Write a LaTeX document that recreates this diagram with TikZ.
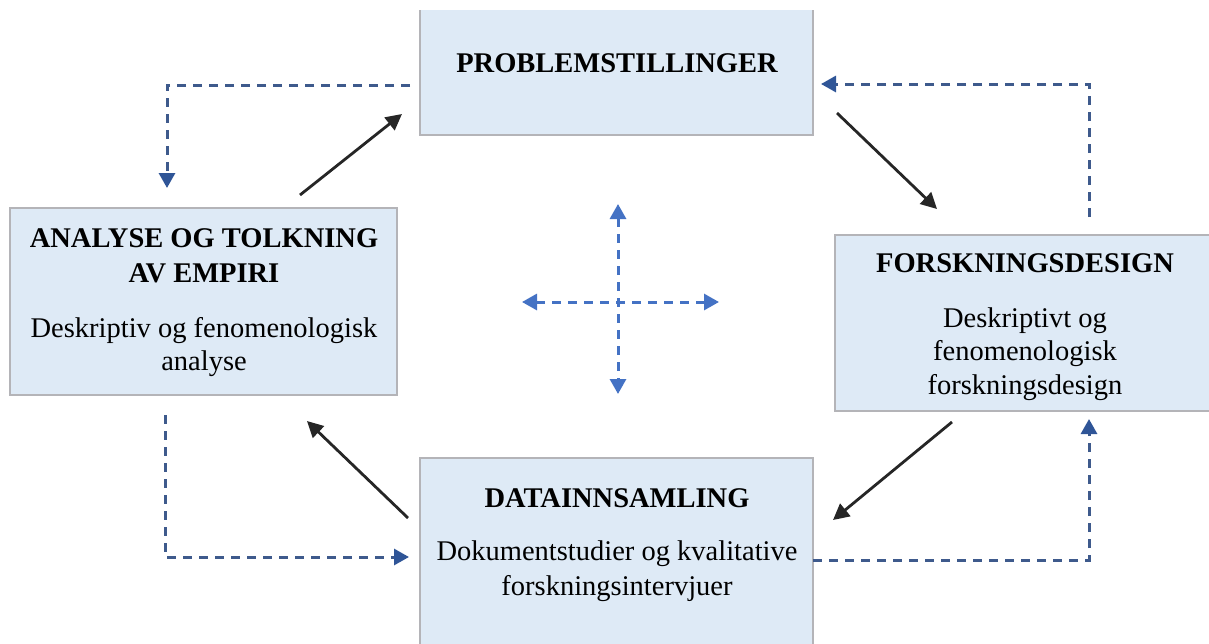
\documentclass[tikz,border=0pt]{standalone}
\usepackage{fontspec}
\setmainfont{Liberation Serif}
\usetikzlibrary{arrows.meta}
\definecolor{boxfill}{RGB}{222,234,246}
\definecolor{boxline}{RGB}{180,180,184}
\definecolor{dashline}{RGB}{62,90,140}
\definecolor{dashhead}{RGB}{47,85,151}
\definecolor{crossblue}{RGB}{68,114,196}
\definecolor{solidarrow}{RGB}{38,38,38}
\tikzset{
  boxnode/.style={rectangle, fill=boxfill, inner sep=0pt, outer sep=0pt, anchor=north west},
  boxborder/.style={draw=boxline, line width=2.2pt},
  headtxt/.style={anchor=base, inner sep=0pt, font=\fontsize{28.5pt}{34pt}\selectfont\bfseries},
  bodytxt/.style={anchor=base, inner sep=0pt, font=\fontsize{28.5pt}{34pt}\selectfont},
  flow/.style={draw=solidarrow, line width=2.8pt, -{Triangle[length=16pt,width=16pt]}},
  feedback/.style={draw=dashline, line width=3pt, dash pattern=on 9pt off 7pt,
     -{Triangle[length=15pt,width=16pt,color=dashhead]}},
  crossarrow/.style={draw=crossblue, line width=3pt, dash pattern=on 9pt off 7pt,
     {Triangle[length=15pt,width=16pt]}-{Triangle[length=15pt,width=16pt]}}
}
\begin{document}
\begin{tikzpicture}[x=1pt,y=-1pt]
\useasboundingbox (0,0) rectangle (1209,643);
% boxes
\node[boxnode, minimum width=393pt, minimum height=125pt] (top) at (420,10) {};
\draw[boxborder] (top.north west) |- (top.south east) -- (top.north east);
\node[boxnode, boxborder, minimum width=387pt, minimum height=187pt] (left) at (10,208) {};
\node[boxnode, boxborder, minimum width=381pt, minimum height=176pt] (right) at (835,235) {};
\node[boxnode, boxborder, minimum width=393pt, minimum height=200pt] (bottom) at (420,458) {};
% texts
\node[headtxt] (t1) at (617,72) {PROBLEMSTILLINGER};
\node[headtxt] (l1) at (204,247) {ANALYSE OG TOLKNING};
\node[headtxt] (l2) at (204,282) {AV EMPIRI};
\node[bodytxt] (l3) at (204,337) {Deskriptiv og fenomenologisk};
\node[bodytxt] (l4) at (204,370) {analyse};
\node[headtxt] (r1) at (1025,272) {FORSKNINGSDESIGN};
\node[bodytxt] (r2) at (1025,327) {Deskriptivt og};
\node[bodytxt] (r3) at (1025,360) {fenomenologisk};
\node[bodytxt] (r4) at (1025,394) {forskningsdesign};
\node[headtxt] (b1) at (617,507) {DATAINNSAMLING};
\node[bodytxt] (b2) at (617,560) {Dokumentstudier og kvalitative};
\node[bodytxt] (b3) at (617,595) {forskningsintervjuer};
% solid arrow endpoints
\coordinate (s1a) at (300,195);
\coordinate (s1b) at (402,114);
\coordinate (s2a) at (837,113);
\coordinate (s2b) at (937,209);
\coordinate (s3a) at (952,422);
\coordinate (s3b) at (833,520);
\coordinate (s4a) at (408,518);
\coordinate (s4b) at (307,421);
\draw[flow] (s1a) -- (s1b);
\draw[flow] (s2a) -- (s2b);
\draw[flow] (s3a) -- (s3b);
\draw[flow] (s4a) -- (s4b);
% dashed feedback endpoints
\coordinate (dA1) at (410,85);
\coordinate (dA2) at (167,188);
\coordinate (dB1) at (1089,217);
\coordinate (dB2) at (821,84);
\coordinate (dC1) at (813,560);
\coordinate (dC2) at (1089,419);
\coordinate (dD1) at (165,415);
\coordinate (dD2) at (409,557);
\draw[feedback] (dA1) -| (dA2);
\draw[feedback] (dB1) |- (dB2);
\draw[feedback] (dC1) -| (dC2);
\draw[feedback] (dD1) |- (dD2);
% centre cross
\coordinate (cN) at (618,204);
\coordinate (cS) at (618,394);
\coordinate (cW) at (522,302);
\coordinate (cE) at (719,302);
\draw[crossarrow] (cN) -- (cS);
\draw[crossarrow] (cW) -- (cE);
\end{tikzpicture}
\end{document}
